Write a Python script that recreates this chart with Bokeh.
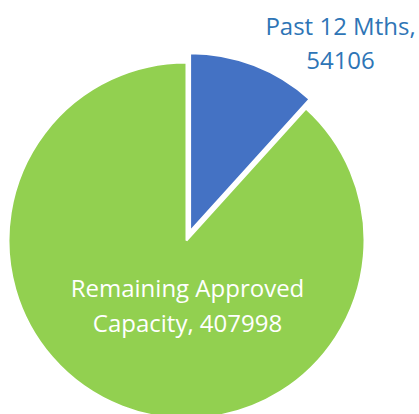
import math
from bokeh.plotting import figure
from bokeh.models import Range1d
from bokeh.core.properties import value
from bokeh.embed import file_html
from bokeh.resources import INLINE

categories = ["Past 12 Mths", "Remaining Approved Capacity"]
values = [54106, 407998]
colors = ["#4472C4", "#92D050"]
label_colors = ["#2E75B6", "#FFFFFF"]

W, H = 419, 414
p = figure(width=W, height=H, output_backend="svg", toolbar_location=None,
           x_range=Range1d(0, W), y_range=Range1d(0, H), min_border=0,
           background_fill_color="white", border_fill_color="white")
p.axis.visible = False
p.grid.visible = False
p.outline_line_color = None

def Y(y):
    return H - y

cx, cy, r = 186, Y(240), 178
explode = 10
total = sum(values)
start = math.pi / 2
a_blue = 2 * math.pi * values[0] / total
b_start, b_end = start - a_blue, start
mid = (b_start + b_end) / 2
bx, by = cx + explode * math.cos(mid), cy + explode * math.sin(mid)

p.wedge(x=[cx], y=[cy], radius=r, start_angle=[b_end], end_angle=[b_start + 2 * math.pi],
        fill_color=colors[1], line_color="white", line_width=2)
p.wedge(x=[bx], y=[by], radius=r, start_angle=[b_start], end_angle=[b_end],
        fill_color=colors[0], line_color="white", line_width=2)

p.text(x=[340, 340], y=[Y(25), Y(60)],
       text=[categories[0] + ",", str(values[0])],
       text_color=label_colors[0], text_font=value("Open Sans"), text_font_size="24px",
       text_align="center", text_baseline="middle")
p.text(x=[187, 187], y=[Y(287), Y(322)],
       text=["Remaining Approved", "Capacity, " + str(values[1])],
       text_color=label_colors[1], text_font=value("Open Sans"), text_font_size="24px",
       text_align="center", text_baseline="middle")

open("out.html", "w").write(file_html(p, INLINE))
